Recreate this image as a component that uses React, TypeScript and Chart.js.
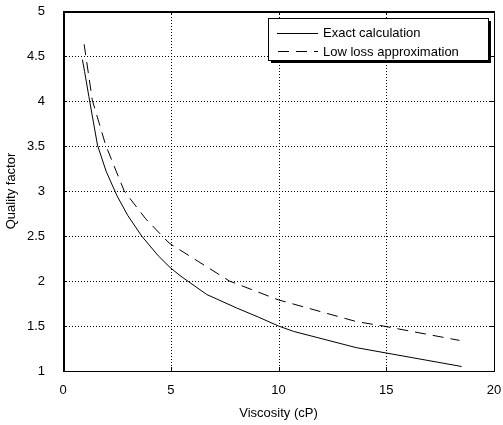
import React, { useEffect, useRef } from "react";
import { Chart, registerables } from "chart.js";

Chart.register(...registerables);

const exactX = [0.9, 1.0, 1.2, 1.6, 2.0, 2.5, 3.0, 3.65, 4.42, 4.97, 5.43, 6.67, 8.06, 9.06, 10.0, 10.7, 13.6, 18.5];
const exactY = [4.46, 4.33, 4.05, 3.51, 3.22, 2.95, 2.73, 2.5, 2.28, 2.15, 2.06, 1.85, 1.7, 1.6, 1.5, 1.44, 1.26, 1.05];
const approxX = [0.98, 1.36, 1.98, 2.84, 3.84, 4.93, 7.72, 10.0, 13.6, 14.85, 18.4];
const approxY = [4.63, 4.01, 3.51, 3.0, 2.69, 2.42, 2.0, 1.79, 1.55, 1.5, 1.34];
const seriesNames = ["Exact calculation", "Low loss approximation"];
const xTicks = [0, 5, 10, 15, 20];
const yTicks = [1, 1.5, 2, 2.5, 3, 3.5, 4, 4.5, 5];
const xTitle = "Viscosity (cP)";
const yTitle = "Quality factor";

const FONT = "Liberation Sans, Arial, sans-serif";
const FS = 13;

const framePlugin = {
  id: "frame",
  beforeDatasetsDraw(chart: any) {
    const { ctx, chartArea, scales } = chart;
    const { left, right, top, bottom } = chartArea;
    ctx.save();
    ctx.strokeStyle = "#000";
    ctx.lineWidth = 1;
    ctx.setLineDash([1, 2]);
    xTicks.forEach((v) => {
      const x = Math.round(scales.x.getPixelForValue(v)) + 0.5;
      if (v === xTicks[0] || v === xTicks[xTicks.length - 1]) return;
      ctx.beginPath();
      ctx.moveTo(x, top);
      ctx.lineTo(x, bottom);
      ctx.stroke();
    });
    yTicks.forEach((v) => {
      const y = Math.round(scales.y.getPixelForValue(v)) + 0.5;
      if (v === yTicks[0] || v === yTicks[yTicks.length - 1]) return;
      ctx.beginPath();
      ctx.moveTo(left, y);
      ctx.lineTo(right, y);
      ctx.stroke();
    });
    ctx.setLineDash([]);
    xTicks.forEach((v) => {
      const x = Math.round(scales.x.getPixelForValue(v)) + 0.5;
      ctx.beginPath();
      ctx.moveTo(x, bottom);
      ctx.lineTo(x, bottom - 4);
      ctx.moveTo(x, top);
      ctx.lineTo(x, top + 4);
      ctx.stroke();
    });
    yTicks.forEach((v) => {
      const y = Math.round(scales.y.getPixelForValue(v)) + 0.5;
      ctx.beginPath();
      ctx.moveTo(left, y);
      ctx.lineTo(left + 4, y);
      ctx.moveTo(right, y);
      ctx.lineTo(right - 4, y);
      ctx.stroke();
    });
    ctx.restore();
  },
  afterDraw(chart: any) {
    const { ctx, chartArea } = chart;
    const { left, right, top, bottom } = chartArea;
    ctx.save();
    ctx.strokeStyle = "#000";
    ctx.lineWidth = 1;
    ctx.strokeRect(Math.round(left) + 0.5, Math.round(top) + 0.5, Math.round(right - left), Math.round(bottom - top));
    ctx.lineWidth = 2;
    ctx.beginPath();
    ctx.moveTo(Math.round(left) + 1, Math.round(bottom));
    ctx.lineTo(Math.round(left) + 1, Math.round(top) + 1);
    ctx.lineTo(Math.round(right), Math.round(top) + 1);
    ctx.stroke();
    ctx.lineWidth = 1;
    // legend box
    const bx = 268, by = 18, bw = 220, bh = 42;
    ctx.fillStyle = "#000";
    ctx.fillRect(bx + 3, by + 3, bw, bh);
    ctx.fillStyle = "#fff";
    ctx.fillRect(bx, by, bw, bh);
    ctx.strokeRect(bx + 0.5, by + 0.5, bw, bh);
    ctx.beginPath();
    ctx.moveTo(277, 33.5);
    ctx.lineTo(318, 33.5);
    ctx.stroke();
    ctx.setLineDash([11, 7]);
    ctx.beginPath();
    ctx.moveTo(278, 51.5);
    ctx.lineTo(318, 51.5);
    ctx.stroke();
    ctx.setLineDash([]);
    ctx.fillStyle = "#000";
    ctx.font = FS + "px " + FONT;
    ctx.textBaseline = "middle";
    ctx.textAlign = "left";
    ctx.fillText(seriesNames[0], 323, 33);
    ctx.fillText(seriesNames[1], 323, 52);
    ctx.restore();
  },
};

export default function App() {
  const ref = useRef<HTMLCanvasElement>(null);
  useEffect(() => {
    document.body.style.margin = "0";
    const chart = new Chart(ref.current as HTMLCanvasElement, {
      type: "line",
      data: {
        datasets: [
          {
            label: seriesNames[0],
            data: exactX.map((x, i) => ({ x, y: exactY[i] })),
            borderColor: "#000",
            borderWidth: 1,
            pointRadius: 0,
            tension: 0,
            fill: false,
          },
          {
            label: seriesNames[1],
            data: approxX.map((x, i) => ({ x, y: approxY[i] })),
            borderColor: "#000",
            borderWidth: 1,
            borderDash: [11, 7],
            pointRadius: 0,
            tension: 0,
            fill: false,
          },
        ],
      },
      options: {
        responsive: false,
        animation: false,
        layout: { padding: { left: 0, top: 11, right: 9, bottom: 0 } },
        plugins: { legend: { display: false }, tooltip: { enabled: false } },
        scales: {
          x: {
            type: "linear",
            min: 0,
            max: 20,
            afterFit: (s: any) => { s.height = 54; s.paddingLeft = 0; s.paddingRight = 0; },
            afterBuildTicks: (s: any) => { s.ticks = xTicks.map((v) => ({ value: v })); },
            grid: { display: false, drawTicks: false },
            border: { display: false },
            ticks: { color: "#000", font: { family: FONT, size: FS }, padding: 12, maxRotation: 0, callback: (v: any) => String(v) },
            title: { display: true, text: xTitle, color: "#000", font: { family: FONT, size: FS }, padding: { top: 0, bottom: 4 } },
          },
          y: {
            type: "linear",
            min: 1,
            max: 5,
            afterFit: (s: any) => { s.width = 63; s.paddingTop = 0; s.paddingBottom = 0; },
            afterBuildTicks: (s: any) => { s.ticks = yTicks.map((v) => ({ value: v })); },
            grid: { display: false, drawTicks: false },
            border: { display: false },
            ticks: { color: "#000", font: { family: FONT, size: FS }, padding: 18, callback: (v: any) => String(v) },
            title: { display: true, text: yTitle, color: "#000", font: { family: FONT, size: FS }, padding: { top: 4, bottom: 0 } },
          },
        },
      },
      plugins: [framePlugin],
    });
    return () => chart.destroy();
  }, []);
  return (
    <div style={{ position: "absolute", left: 0, top: 0, width: 503, height: 425 }}>
      <canvas ref={ref} width={503} height={425} />
    </div>
  );
}
